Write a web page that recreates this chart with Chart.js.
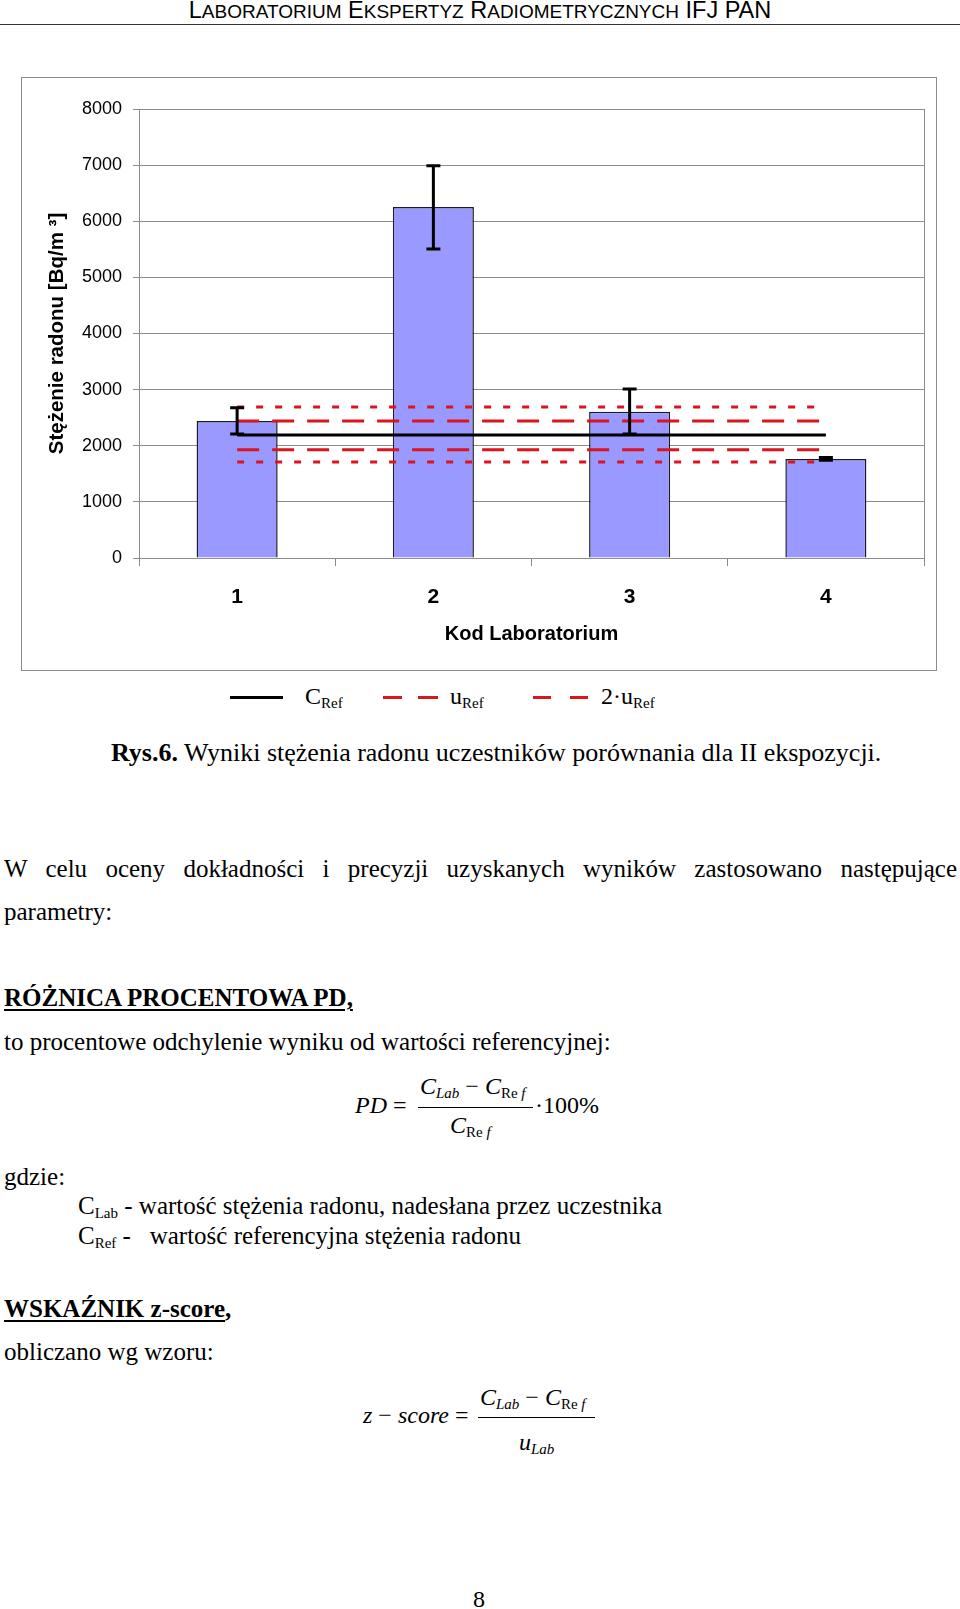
<!DOCTYPE html>
<html lang="pl">
<head>
<meta charset="utf-8">
<title>Rys.6. Wyniki stężenia radonu</title>
<script src="https://cdn.jsdelivr.net/npm/chart.js@4.4.1/dist/chart.umd.min.js"></script>
<style>
  html, body { margin: 0; padding: 0; background: #fff; }
  body { width: 960px; height: 1609px; position: relative; overflow: hidden;
         font-family: 'Liberation Serif', 'Times New Roman', serif; color: #000; }
  .abs { position: absolute; white-space: nowrap; line-height: 1; font-size: 25px; }
  .hdr { font-family: 'Liberation Sans', Arial, sans-serif; font-size: 23.5px;
         left: 0; width: 960px; text-align: center; top: -1px; }
  .hdr span { font-size: 19px; }
  .rule { position: absolute; left: 0; width: 960px; top: 24px; border-top: 1.5px solid #333; }
  #box { position: absolute; left: 21px; top: 77px; width: 916px; height: 594px;
         border: 1px solid #8c8c8c; box-sizing: border-box; }
  #box canvas { position: absolute; left: 0; top: 0; }
  .lgline { position: absolute; height: 0; border-top: 3px solid #000; }
  .lgred { border-top-color: #dc141e; }
  .lg { font-size: 24px; }
  sub { font-size: 15px; vertical-align: -4px; line-height: 0; }
  .just { white-space: normal; text-align: justify; text-align-last: justify; }
  .u { text-decoration: underline; text-underline-offset: 3px; text-decoration-thickness: 2px; }
  .fbar { position: absolute; height: 0; border-top: 1.2px solid #000; }
  .f { font-size: 24px; }
</style>
</head>
<body>

<div class="abs hdr">L<span>ABORATORIUM</span> E<span>KSPERTYZ</span> R<span>ADIOMETRYCZNYCH</span> IFJ PAN</div>
<div class="rule"></div>

<div id="box"><canvas id="chart" width="914" height="592"></canvas></div>

<!-- legenda -->
<div class="lgline" style="left:230px; width:53px; top:696px;"></div>
<div class="abs lg" style="left:305px; top:684px;">C<sub>Ref</sub></div>
<div class="lgline lgred" style="left:383px; width:19px; top:696px;"></div>
<div class="lgline lgred" style="left:418px; width:20px; top:696px;"></div>
<div class="abs lg" style="left:450px; top:684px;">u<sub>Ref</sub></div>
<div class="lgline lgred" style="left:533px; width:18px; top:696px;"></div>
<div class="lgline lgred" style="left:570px; width:18px; top:696px;"></div>
<div class="abs lg" style="left:601px; top:684px;">2·u<sub>Ref</sub></div>

<div class="abs" style="left:111px; top:740px; font-size:26px;"><b>Rys.6.</b> Wyniki stężenia radonu uczestników porównania dla II ekspozycji.</div>

<div class="abs just" style="left:4px; width:953px; top:856px;">W celu oceny dokładności i precyzji uzyskanych wyników zastosowano następujące</div>
<div class="abs" style="left:4px; top:899px;">parametry:</div>

<div class="abs" style="left:4px; top:985px;"><b class="u">RÓŻNICA PROCENTOWA PD,</b></div>
<div class="abs" style="left:4px; top:1029px;">to procentowe odchylenie wyniku od wartości referencyjnej:</div>

<!-- wzór PD -->
<div class="abs f" style="left:355px; top:1093px;"><i>PD</i> =</div>
<div class="abs f" style="left:420px; top:1074px;"><i>C</i><sub><i>Lab</i></sub> − <i>C</i><sub>Re <i>f</i></sub></div>
<div class="fbar" style="left:418px; width:115px; top:1107px;"></div>
<div class="abs f" style="left:450px; top:1113px;"><i>C</i><sub>Re <i>f</i></sub></div>
<div class="abs f" style="left:535px; top:1093px;">·100%</div>

<div class="abs" style="left:4px; top:1164px;">gdzie:</div>
<div class="abs" style="left:78px; top:1193px;">C<sub>Lab</sub> - wartość stężenia radonu, nadesłana przez uczestnika</div>
<div class="abs" style="left:78px; top:1223px;">C<sub>Ref</sub> - &nbsp; wartość referencyjna stężenia radonu</div>

<div class="abs" style="left:4px; top:1296px;"><b><span class="u">WSKAŹNIK z-score</span>,</b></div>
<div class="abs" style="left:4px; top:1339px;">obliczano wg wzoru:</div>

<!-- wzór z-score -->
<div class="abs f" style="left:363px; top:1403px;"><i>z</i> − <i>score</i> =</div>
<div class="abs f" style="left:480px; top:1385px;"><i>C</i><sub><i>Lab</i></sub> − <i>C</i><sub>Re <i>f</i></sub></div>
<div class="fbar" style="left:478px; width:117px; top:1417px;"></div>
<div class="abs f" style="left:519px; top:1430px;"><i>u</i><sub><i>Lab</i></sub></div>

<div class="abs f" style="left:473px; top:1587px;">8</div>

<script>
// ─── Dane ────────────────────────────────────────────────────────────────────
const labCodes   = ['1', '2', '3', '4'];
const radonConc  = [2440, 6255, 2605, 1765];   // Bq/m3
const errLow     = [2210, 5505, 2210, 1740];
const errHigh    = [2675, 6990, 3010, 1790];
const cRef       = [2190, 2190, 2190, 2190];
const uRefUpper  = [2440, 2440, 2440, 2440];
const uRefLower  = [1930, 1930, 1930, 1930];
const u2RefUpper = [2690, 2690, 2690, 2690];
const u2RefLower = [1710, 1710, 1710, 1710];
const yMin = 0, yMax = 8000, yStep = 1000;

const GRID = '#8c8c8c';
const RED  = '#dc141e';
const SANS = "'Liberation Sans', Arial, sans-serif";

// słupki błędów rysowane na wierzchu
const errorBars = {
  id: 'errorBars',
  afterDatasetsDraw(chart) {
    const { ctx, scales: { y } } = chart;
    const meta = chart.getDatasetMeta(0);
    ctx.save();
    ctx.strokeStyle = '#000';
    ctx.lineWidth = 3;
    meta.data.forEach((bar, i) => {
      const top = y.getPixelForValue(errHigh[i]);
      const bot = y.getPixelForValue(errLow[i]);
      ctx.beginPath();
      ctx.moveTo(bar.x, top);     ctx.lineTo(bar.x, bot);
      ctx.moveTo(bar.x - 7, top); ctx.lineTo(bar.x + 7, top);
      ctx.moveTo(bar.x - 7, bot); ctx.lineTo(bar.x + 7, bot);
      ctx.stroke();
    });
    ctx.restore();
  }
};

// prawa krawędź obszaru wykresu
const plotFrame = {
  id: 'plotFrame',
  beforeDatasetsDraw(chart) {
    const { ctx, chartArea: a } = chart;
    ctx.save();
    ctx.strokeStyle = GRID;
    ctx.lineWidth = 1;
    ctx.beginPath();
    ctx.moveTo(Math.round(a.right) + 0.5, a.top);
    ctx.lineTo(Math.round(a.right) + 0.5, a.bottom);
    ctx.stroke();
    ctx.restore();
  }
};

const refLine = (label, data, color, dash, order) => ({
  type: 'line', label, data,
  borderColor: color, borderWidth: 3, borderDash: dash,
  pointRadius: 0, fill: false, tension: 0, order,
});

new Chart(document.getElementById('chart'), {
  type: 'bar',
  data: {
    labels: labCodes,
    datasets: [
      {
        type: 'bar', label: 'Stężenie radonu', data: radonConc,
        backgroundColor: '#9999ff', borderColor: '#1a1a2a', borderWidth: 1.5,
        barPercentage: 0.413, categoryPercentage: 1, order: 10,
      },
      refLine('C Ref',      cRef,       '#000', [],      1),
      refLine('u Ref +',    uRefUpper,  RED,    [22, 13], 2),
      refLine('u Ref -',    uRefLower,  RED,    [22, 13], 3),
      refLine('2·u Ref +',  u2RefUpper, RED,    [7, 12],  4),
      refLine('2·u Ref -',  u2RefLower, RED,    [7, 12],  5),
    ],
  },
  options: {
    responsive: false,
    animation: false,
    layout: { padding: { top: 31, right: 12, left: 0, bottom: 0 } },
    scales: {
      x: {
        offset: true,
        afterFit: s => { s.height = 112; },
        grid: { offset: true, drawOnChartArea: false, drawTicks: true, tickLength: 8, color: GRID },
        border: { display: true, color: GRID },
        ticks: { color: '#000', padding: 19, font: { family: SANS, size: 21, weight: 'bold' } },
        title: {
          display: true, text: 'Kod Laboratorium', color: '#000',
          font: { family: SANS, size: 20, weight: 'bold' }, padding: { top: 0, bottom: 24 },
        },
      },
      y: {
        min: yMin, max: yMax,
        afterFit: s => { s.width = 117; },
        grid: { color: GRID, tickLength: 6, drawTicks: true },
        border: { display: true, color: GRID },
        ticks: {
          stepSize: yStep, color: '#000', padding: 11,
          font: { family: SANS, size: 18 },
          callback: v => String(v),
        },
        title: {
          display: true, text: 'Stężenie radonu [Bq/m ³]', color: '#000',
          font: { family: SANS, size: 20.5, weight: 'bold' }, padding: { top: 23, bottom: 0 },
        },
      },
    },
    plugins: {
      legend: { display: false },
      tooltip: { enabled: false },
    },
  },
  plugins: [plotFrame, errorBars],
});
</script>
</body>
</html>
